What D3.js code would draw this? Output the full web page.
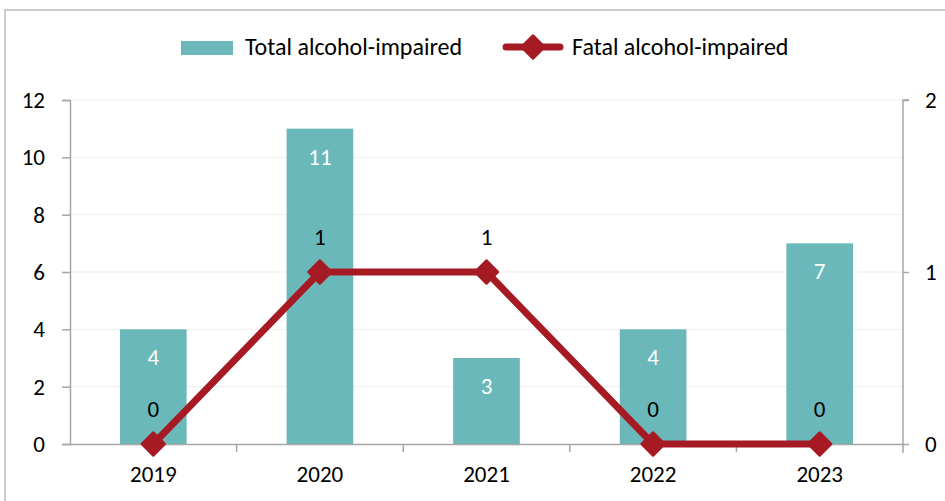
<!DOCTYPE html>
<html>
<head>
<meta charset="utf-8">
<script src="https://cdn.jsdelivr.net/npm/d3@7"></script>
<style>
  body { margin: 0; background: #fff; }
  text { font-family: Carlito, Calibri, "Open Sans", sans-serif; fill: #000; }
</style>
</head>
<body>
<svg width="945" height="501"></svg>
<script>
const svg = d3.select('svg');

const years = ['2019', '2020', '2021', '2022', '2023'];
const totalImpaired = [4, 11, 3, 4, 7];
const fatalImpaired = [0, 1, 1, 0, 0];
const leftTicks = [0, 2, 4, 6, 8, 10, 12];
const rightTicks = [0, 1, 2];

const plot = { left: 70, right: 903, top: 100, bottom: 444 };
const teal = '#6ab8ba';
const red = '#a61a24';
const axisGray = '#a6a6a6';
const fs = '23px';

// outer frame (only top and left edges show)
svg.append('rect')
  .attr('x', 5).attr('y', 10)
  .attr('width', 1200).attr('height', 800)
  .attr('fill', 'none')
  .attr('stroke', '#bcbcbc')
  .attr('stroke-width', 1.5);

const x = d3.scaleBand().domain(years).range([plot.left, plot.right]).paddingInner(0.6).paddingOuter(0.3);
const xBand = d3.scaleBand().domain(years).range([plot.left, plot.right]);
const yL = d3.scaleLinear().domain([0, 12]).range([plot.bottom, plot.top]);
const yR = d3.scaleLinear().domain([0, 2]).range([plot.bottom, plot.top]);

// gridlines
svg.append('g')
  .selectAll('line')
  .data(leftTicks.slice(1))
  .enter()
  .append('line')
  .attr('x1', plot.left).attr('x2', plot.right)
  .attr('y1', d => yL(d)).attr('y2', d => yL(d))
  .attr('stroke', '#efefef')
  .attr('stroke-width', 1);

// left axis
const leftAxis = svg.append('g')
  .attr('transform', `translate(${plot.left},0)`)
  .call(d3.axisLeft(yL).tickValues(leftTicks).tickSize(8).tickPadding(17));
// right axis
const rightAxis = svg.append('g')
  .attr('transform', `translate(${plot.right},0)`)
  .call(d3.axisRight(yR).tickValues(rightTicks).tickSize(6).tickPadding(16).tickFormat(d3.format('d')));
[leftAxis, rightAxis].forEach(g => {
  g.select('.domain').attr('stroke', axisGray).attr('stroke-width', 1.5);
  g.selectAll('.tick line').attr('stroke', axisGray).attr('stroke-width', 1.5);
  g.selectAll('.tick text').style('font-size', fs).attr('fill', '#000');
});
rightAxis.select('.domain').attr('d', `M6,${plot.top}H0V${plot.bottom + 9}`);

// bars
svg.append('g')
  .selectAll('rect')
  .data(totalImpaired)
  .enter()
  .append('rect')
  .attr('x', (d, i) => x(years[i]))
  .attr('y', d => yL(d))
  .attr('width', x.bandwidth())
  .attr('height', d => yL(0) - yL(d))
  .attr('fill', teal);

// x axis
const bottomAxis = svg.append('g')
  .attr('transform', `translate(0,${plot.bottom})`)
  .call(d3.axisBottom(xBand).tickSize(0).tickPadding(22));
bottomAxis.select('.domain').attr('stroke', axisGray).attr('stroke-width', 1.5);
bottomAxis.selectAll('.tick text').style('font-size', fs).attr('fill', '#000');
bottomAxis.selectAll('.sep')
  .data(years.slice(1))
  .enter()
  .append('line')
  .attr('x1', d => xBand(d)).attr('x2', d => xBand(d))
  .attr('y1', 0).attr('y2', 8)
  .attr('stroke', axisGray)
  .attr('stroke-width', 1.5);

// bar labels
svg.append('g')
  .selectAll('text')
  .data(totalImpaired)
  .enter()
  .append('text')
  .attr('x', (d, i) => xBand(years[i]) + xBand.bandwidth() / 2)
  .attr('y', d => yL(d) + 36)
  .attr('text-anchor', 'middle')
  .style('font-size', fs)
  .style('fill', '#fff')
  .text(d => d);

// line
const cx = (d, i) => xBand(years[i]) + xBand.bandwidth() / 2;
svg.append('path')
  .datum(fatalImpaired)
  .attr('d', d3.line().x(cx).y(d => yR(d)))
  .attr('fill', 'none')
  .attr('stroke', red)
  .attr('stroke-width', 7)
  .attr('stroke-linejoin', 'round');

const diamond = d3.symbol().type(d3.symbolSquare).size(250);
svg.append('g')
  .selectAll('path')
  .data(fatalImpaired)
  .enter()
  .append('path')
  .attr('d', diamond)
  .attr('transform', (d, i) => `translate(${cx(d, i)},${yR(d)}) rotate(45)`)
  .attr('fill', red)
  .attr('stroke', red)
  .attr('stroke-width', 3)
  .attr('stroke-linejoin', 'round');

svg.append('g')
  .selectAll('text')
  .data(fatalImpaired)
  .enter()
  .append('text')
  .attr('x', cx)
  .attr('y', d => yR(d) - 27)
  .attr('text-anchor', 'middle')
  .style('font-size', fs)
  .text(d => d);

// legend
const legend = svg.append('g');
legend.append('rect')
  .attr('x', 181).attr('y', 41)
  .attr('width', 52).attr('height', 14)
  .attr('fill', teal);
legend.append('text')
  .attr('x', 245).attr('y', 55)
  .style('font-size', '24px')
  .text('Total alcohol-impaired');
legend.append('line')
  .attr('x1', 506).attr('x2', 560)
  .attr('y1', 47).attr('y2', 47)
  .attr('stroke', red)
  .attr('stroke-width', 7)
  .attr('stroke-linecap', 'round');
legend.append('path')
  .attr('d', diamond)
  .attr('transform', 'translate(533,47) rotate(45)')
  .attr('fill', red)
  .attr('stroke', red)
  .attr('stroke-width', 3)
  .attr('stroke-linejoin', 'round');
legend.append('text')
  .attr('x', 572).attr('y', 55)
  .style('font-size', '24px')
  .text('Fatal alcohol-impaired');
</script>
</body>
</html>
